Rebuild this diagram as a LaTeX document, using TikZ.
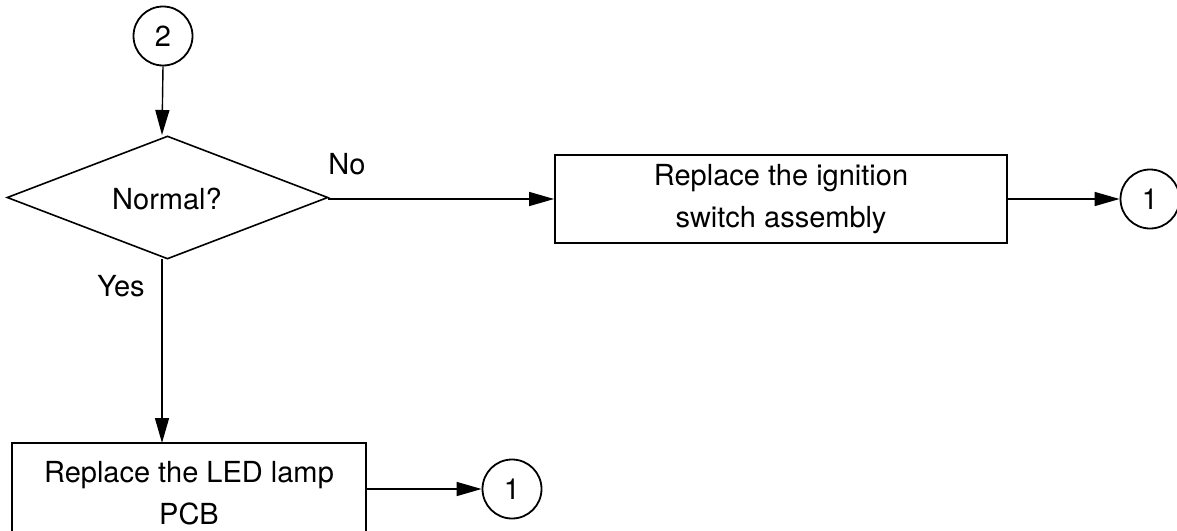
\documentclass[tikz,border=0pt]{standalone}
\usepackage{fontspec}
\setmainfont{TeX Gyre Heros}
\usetikzlibrary{shapes.geometric,arrows.meta}
\begin{document}
\begin{tikzpicture}[x=1pt,y=-1pt,
  every node/.style={font=\fontsize{29}{42}\selectfont},
  conn/.style={circle,draw,line width=1.8pt,minimum size=59pt,inner sep=0pt},
  box/.style={draw,line width=1.8pt,align=center,inner sep=0pt},
  dec/.style={diamond,draw,line width=1.6pt,inner sep=0pt},
  arr/.style={line width=1.4pt,-{Triangle[length=25pt,width=14pt]}},
  ln/.style={line width=1.4pt}]
\useasboundingbox (0,0) rectangle (1177,530);
\node[conn] (c2) at (163,36) {2};
\node[dec,minimum width=321pt,minimum height=123pt] (d) at (167.5,197.5) {};
\node at (167,199) (dt) {Normal?};
\node[box,minimum width=452pt,minimum height=88pt] (b1) at (781,199) {Replace the ignition\\switch assembly};
\node[conn] (c1a) at (1150,199) {1};
\node[box,minimum width=354pt,minimum height=100pt] (b2) at (189,493) {Replace the LED lamp\\PCB};
\node[conn] (c1b) at (512,489) {1};
\node (no) at (347,164) {No};
\node (yes) at (121,286) {Yes};
\coordinate (dtop) at (162,135);
\coordinate (dbot) at (162,259);
\coordinate (dright) at (328,199);
\coordinate (b2top) at (162,443);
\coordinate (b2right) at (366,489);
\draw[arr] (c2.south) -- (dtop);
\draw[arr] (dright) -- (b1.west);
\draw[arr] (b1.east) -- (c1a.west);
\draw[arr] (dbot) -- (b2top);
\draw[arr] (b2right) -- (c1b.west);
\end{tikzpicture}
\end{document}
